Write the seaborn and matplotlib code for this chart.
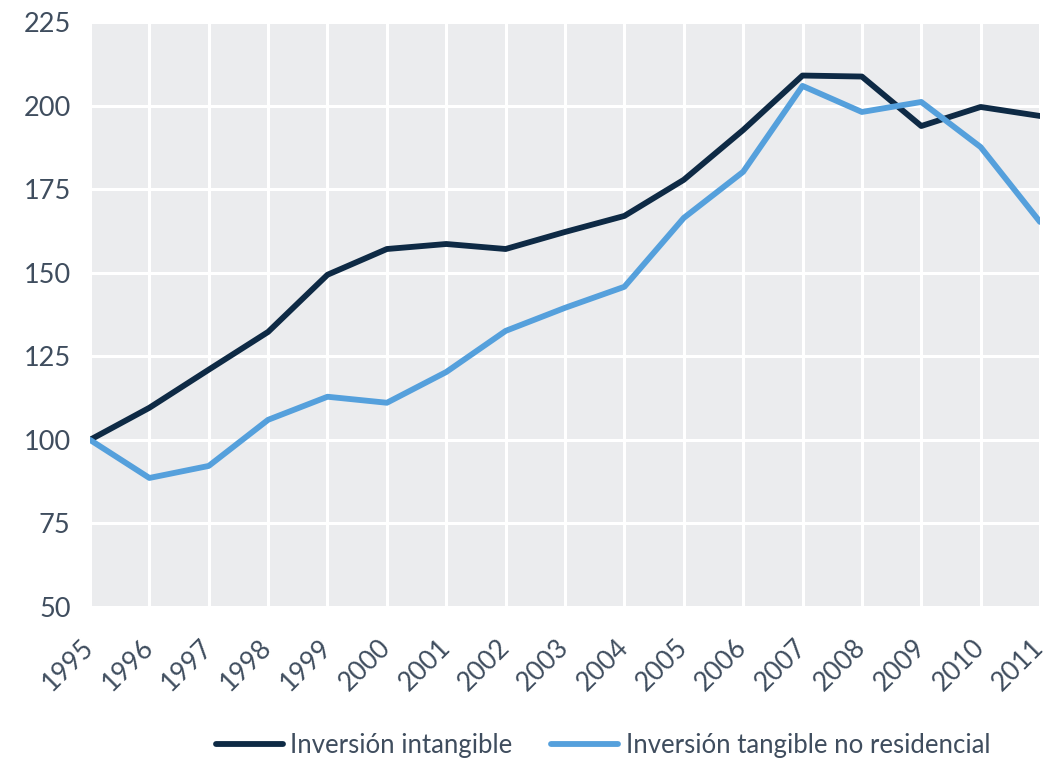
import numpy as np
import pandas as pd
import matplotlib
matplotlib.use('Agg')
import matplotlib.pyplot as plt
import seaborn as sns

# Data
years = list(range(1995, 2012))
intangible = [100, 109.6, 121.0, 132.3, 149.4, 157.1, 158.6, 157.1, 162.2, 167.0,
              177.8, 192.7, 209.0, 208.7, 193.9, 199.6, 196.9]
tangible = [100, 88.6, 92.2, 106.0, 112.9, 111.1, 120.3, 132.6, 139.5, 145.8,
            166.4, 180.2, 205.9, 198.1, 201.1, 187.6, 165.2]
series_names = ['Inversión intangible', 'Inversión tangible no residencial']
series_colors = ['#0E2A45', '#55A0DC']

df = pd.DataFrame({'year': years * 2,
                   'value': intangible + tangible,
                   'serie': [series_names[0]] * len(years) + [series_names[1]] * len(years)})

# Styling
text_color = '#3F4D5E'
sns.set_style('darkgrid', {'axes.facecolor': '#EBECEE', 'grid.color': 'white'})
plt.rcParams['font.family'] = ['Lato', 'DejaVu Sans']

fig = plt.figure(figsize=(10.55, 7.61), dpi=100)
ax = fig.add_axes([0.0853, 0.2024, 0.9005, 0.7686])

sns.lineplot(data=df, x='year', y='value', hue='serie', palette=series_colors,
             linewidth=4.2, ax=ax)

ax.set_xlim(1995, 2011)
ax.set_ylim(50, 225)
ax.set_xticks(years)
ax.set_yticks(np.arange(50, 226, 25))
ax.set_xticklabels([str(y) for y in years], rotation=45, ha='right', va='center',
                   rotation_mode='anchor', fontsize=19, color=text_color)
ax.set_yticklabels([str(v) for v in range(50, 226, 25)], fontsize=19.5, color=text_color)
ax.tick_params(axis='both', length=0)
ax.tick_params(axis='x', pad=26)
ax.tick_params(axis='y', pad=14)
ax.grid(True, color='white', linewidth=2.2)
ax.set_xlabel('')
ax.set_ylabel('')
for s in ax.spines.values():
    s.set_visible(False)

handles, labels = ax.get_legend_handles_labels()
ax.legend(handles, labels, loc='lower center', bbox_to_anchor=(0.54, -0.297),
          ncol=2, frameon=False, fontsize=18.5, labelcolor=text_color,
          handlelength=2.6, handletextpad=0.3, columnspacing=1.5)

plt.savefig('out.png', dpi=100)
